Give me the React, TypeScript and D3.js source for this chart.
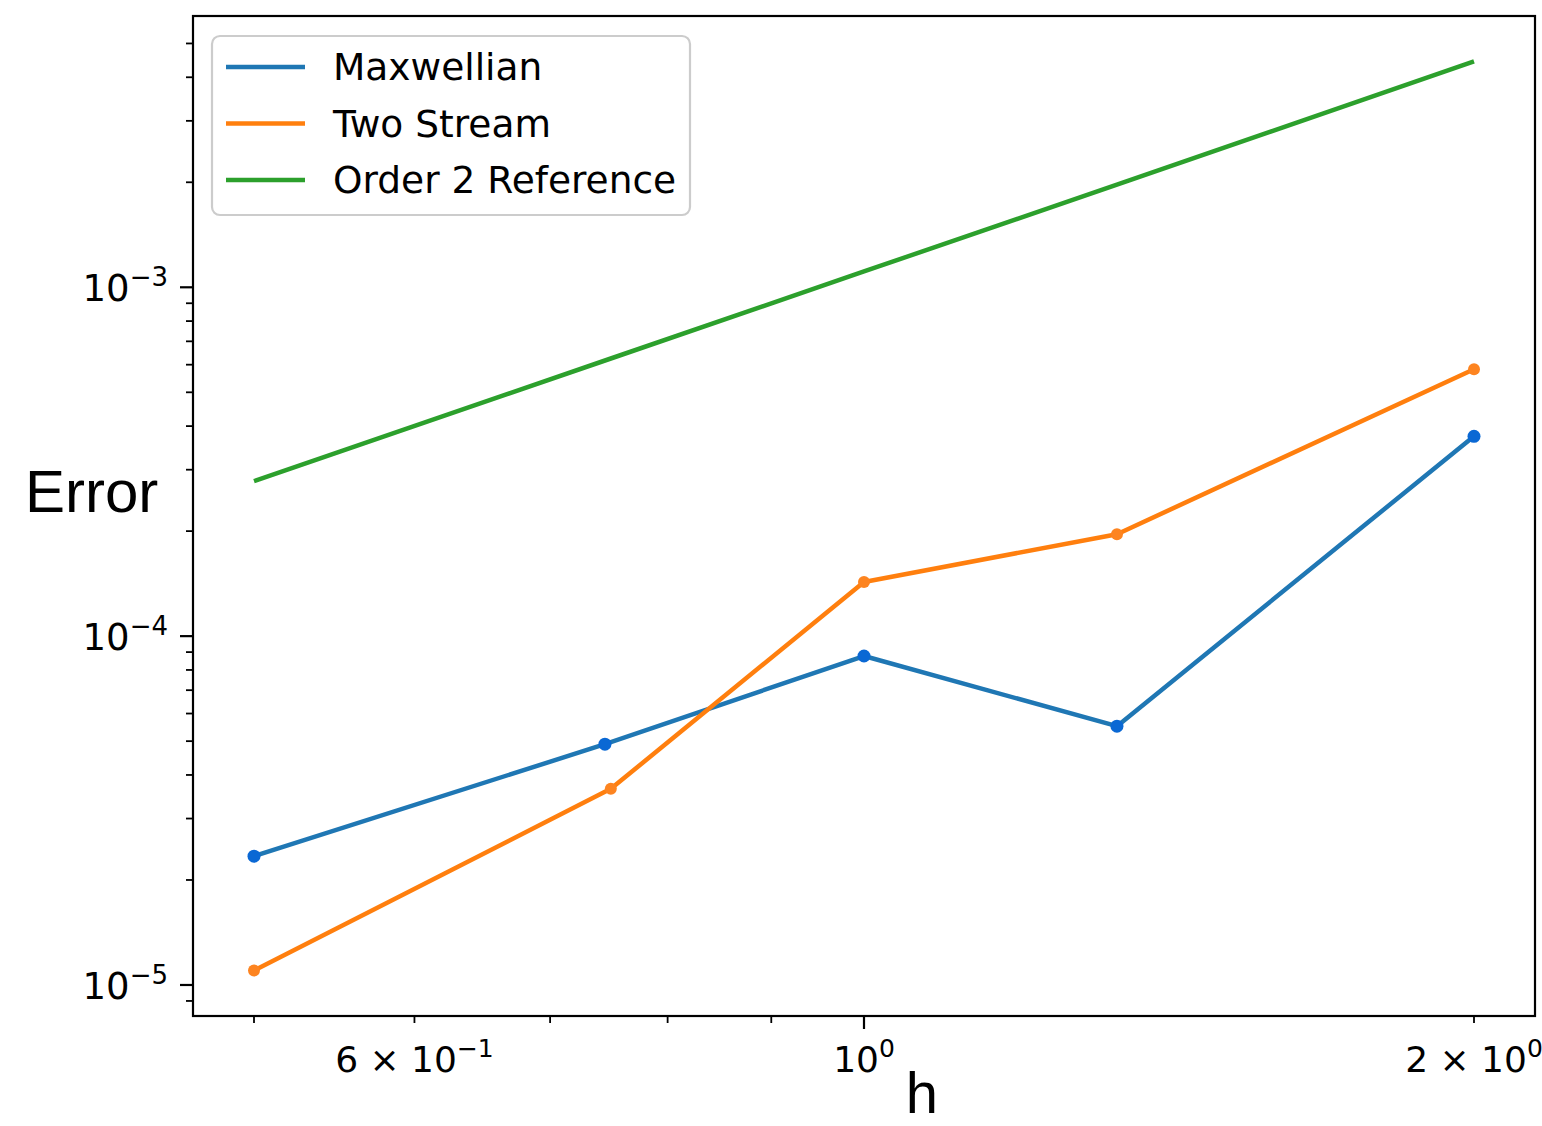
import React, { useEffect, useRef } from 'react';
import * as d3 from 'd3';

// step sizes and errors
const hValues = [0.5, 0.75, 1.0, 1.333, 2.0];
const maxwellianH = [0.5, 0.745, 1.0, 1.333, 2.0];
const maxwellianErr = [2.34e-5, 4.9e-5, 8.77e-5, 5.52e-5, 3.74e-4];
const twoStreamErr = [1.1e-5, 3.65e-5, 1.43e-4, 1.96e-4, 5.82e-4];
const order2Err = [2.78e-4, 6.25e-4, 1.11e-3, 1.97e-3, 4.44e-3];

const xTickValues = [0.6, 1, 2];
const xTickBases = ['6 × 10', '10', '2 × 10'];
const xTickExps = ['−1', '0', '0'];
const xMinorValues = [0.5, 0.7, 0.8, 0.9];

const yTickValues = [1e-5, 1e-4, 1e-3];
const yTickExps = ['−5', '−4', '−3'];

const legendLabels = ['Maxwellian', 'Two Stream', 'Order 2 Reference'];

const W = 1542;
const H = 1126;

export default function App() {
    const ref = useRef<SVGSVGElement | null>(null);

    useEffect(() => {
        drawChart();
    }, []);

    const drawChart = () => {
        const root = d3.select(ref.current);
        root.selectAll('*').remove();

        const margin = { top: 16, right: 7, bottom: 110, left: 193 };
        const width = W - margin.left - margin.right;
        const height = H - margin.top - margin.bottom;
        const tickFont = 'DejaVu Sans, sans-serif';

        const svg = root.append('g')
            .attr('transform', 'translate(' + margin.left + ',' + margin.top + ')');

        // log limits with matplotlib's 5% margin
        const allX = hValues.concat(maxwellianH);
        const lx0 = Math.log10(d3.min(allX) as number);
        const lx1 = Math.log10(d3.max(allX) as number);
        const padX = (lx1 - lx0) * 0.05;
        const allY = maxwellianErr.concat(twoStreamErr, order2Err);
        const ly0 = Math.log10(d3.min(allY) as number);
        const ly1 = Math.log10(d3.max(allY) as number);
        const padY = (ly1 - ly0) * 0.05;

        const x = d3.scaleLog()
            .domain([Math.pow(10, lx0 - padX), Math.pow(10, lx1 + padX)])
            .range([0, width]);
        const y = d3.scaleLog()
            .domain([Math.pow(10, ly0 - padY), Math.pow(10, ly1 + padY)])
            .range([height, 0]);

        // y ticks: majors and minors
        const yMinor: number[] = [];
        [-6, -5, -4, -3].forEach((e) => {
            for (let k = 2; k <= 9; k++) {
                const v = k * Math.pow(10, e);
                if (v > y.domain()[0] && v < y.domain()[1]) yMinor.push(v);
            }
        });

        svg.selectAll('.yminor')
            .data(yMinor)
            .enter()
            .append('line')
            .attr('x1', -7).attr('x2', 0)
            .attr('y1', (d) => y(d)).attr('y2', (d) => y(d))
            .attr('stroke', '#000').attr('stroke-width', 1.8);

        svg.selectAll('.ymajor')
            .data(yTickValues)
            .enter()
            .append('line')
            .attr('x1', -13).attr('x2', 0)
            .attr('y1', (d) => y(d)).attr('y2', (d) => y(d))
            .attr('stroke', '#000').attr('stroke-width', 2.2);

        const yLabels = svg.selectAll('.ylabel')
            .data(yTickValues)
            .enter()
            .append('text')
            .attr('x', -25)
            .attr('y', (d) => y(d) + 14)
            .attr('text-anchor', 'end')
            .attr('font-family', tickFont)
            .attr('font-size', 37)
            .attr('fill', '#000');
        yLabels.append('tspan').text('10');
        yLabels.append('tspan')
            .attr('dy', -15)
            .attr('font-size', 26)
            .text((d, i) => yTickExps[i]);

        // x ticks
        svg.selectAll('.xminor')
            .data(xMinorValues.concat([0.6, 2]))
            .enter()
            .append('line')
            .attr('x1', (d) => x(d)).attr('x2', (d) => x(d))
            .attr('y1', height).attr('y2', height + 7)
            .attr('stroke', '#000').attr('stroke-width', 1.8);

        svg.append('line')
            .attr('x1', x(1)).attr('x2', x(1))
            .attr('y1', height).attr('y2', height + 13)
            .attr('stroke', '#000').attr('stroke-width', 2.2);

        const xLabels = svg.selectAll('.xlabel')
            .data(xTickValues)
            .enter()
            .append('text')
            .attr('x', (d) => x(d))
            .attr('y', height + 56)
            .attr('text-anchor', 'middle')
            .attr('font-family', tickFont)
            .attr('font-size', 36)
            .attr('fill', '#000');
        xLabels.append('tspan').text((d, i) => xTickBases[i]);
        xLabels.append('tspan')
            .attr('dy', -15)
            .attr('font-size', 25)
            .text((d, i) => xTickExps[i]);

        // axis labels
        root.append('text')
            .attr('x', 25)
            .attr('y', 512)
            .attr('font-family', 'Liberation Sans, Arial, sans-serif')
            .attr('font-size', 60)
            .attr('fill', '#000')
            .text('Error');

        root.append('text')
            .attr('x', 922)
            .attr('y', 1113)
            .attr('text-anchor', 'middle')
            .attr('font-family', 'Liberation Sans, Arial, sans-serif')
            .attr('font-size', 58)
            .attr('fill', '#000')
            .text('h');

        // lines
        const line = d3.line<[number, number]>()
            .x((d) => x(d[0]))
            .y((d) => y(d[1]));

        const series = [
            { xs: maxwellianH, ys: maxwellianErr, color: '#1f77b4', marker: '#0a68d4', r: 6.5 },
            { xs: hValues, ys: twoStreamErr, color: '#ff7f0e', marker: '#fd8420', r: 6 },
            { xs: hValues, ys: order2Err, color: '#2ca02c', marker: null, r: 0 },
        ];

        series.forEach((s) => {
            const pts = s.xs.map((v, i) => [v, s.ys[i]] as [number, number]);
            svg.append('path')
                .datum(pts)
                .attr('fill', 'none')
                .attr('stroke', s.color)
                .attr('stroke-width', 4.5)
                .attr('stroke-linejoin', 'round')
                .attr('d', line);
            if (s.marker) {
                svg.selectAll(null)
                    .data(pts)
                    .enter()
                    .append('circle')
                    .attr('cx', (d) => x(d[0]))
                    .attr('cy', (d) => y(d[1]))
                    .attr('r', s.r)
                    .attr('fill', s.marker);
            }
        });

        // frame
        svg.append('rect')
            .attr('width', width)
            .attr('height', height)
            .attr('fill', 'none')
            .attr('stroke', '#000')
            .attr('stroke-width', 2.2);

        // legend
        const legend = svg.append('g')
            .attr('transform', 'translate(19,20)');
        legend.append('rect')
            .attr('width', 478)
            .attr('height', 179)
            .attr('rx', 8)
            .attr('fill', '#fff')
            .attr('fill-opacity', 0.8)
            .attr('stroke', '#cccccc')
            .attr('stroke-width', 2.2);

        legendLabels.forEach((lab, i) => {
            const cy = 31 + i * 56.5;
            legend.append('line')
                .attr('x1', 14).attr('x2', 93)
                .attr('y1', cy).attr('y2', cy)
                .attr('stroke', series[i].color)
                .attr('stroke-width', 4.5);
            legend.append('text')
                .attr('x', 121)
                .attr('y', cy + 13)
                .attr('font-family', tickFont)
                .attr('font-size', 37.5)
                .attr('fill', '#000')
                .text(lab);
        });
    };

    return (
        <div>
            <style>{'body{margin:0}'}</style>
            <svg ref={ref} width={W} height={H} style={{ display: 'block', background: '#fff' }}></svg>
        </div>
    );
}
